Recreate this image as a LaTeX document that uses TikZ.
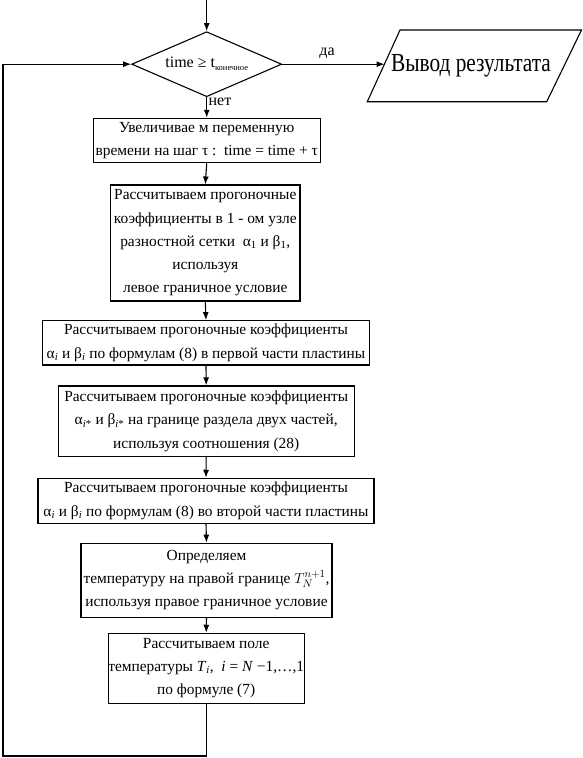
\documentclass[tikz,border=0pt]{standalone}
\usepackage{fontspec}
\setmainfont{LiberationSerif}[Extension=.ttf, UprightFont=*-Regular, ItalicFont=*-Italic, BoldFont=*-Bold, BoldItalicFont=*-BoldItalic]
\usetikzlibrary{arrows.meta,shapes.geometric}
\newcommand{\sbi}[1]{\textsubscript{\textit{#1}}}
\begin{document}
\begin{tikzpicture}[x=1pt,y=-1pt,
  box/.style={draw, line width=1.1pt, inner sep=0pt, align=center, font=\fontsize{15.4}{23.3}\selectfont},
  dec/.style={draw, diamond, line width=1.1pt, inner sep=0pt, aspect=2.3, minimum width=150pt, minimum height=65pt, font=\fontsize{16}{18}\selectfont},
  arr/.style={line width=1.1pt, -{Latex[length=8pt,width=6pt]}},
  ln/.style={line width=1.1pt},
  lbl/.style={font=\fontsize{16}{18}\selectfont, inner sep=0pt}]
\useasboundingbox (0,0) rectangle (582,758);

\coordinate (start) at (206.7,0);
\node[dec] (d) at (206.7,64.2) {time ≥ t\raisebox{-3pt}{\fontsize{8.5}{9}\selectfont конечное}};

% output parallelogram
\coordinate (pA) at (400,30);
\coordinate (pB) at (581.5,30);
\coordinate (pC) at (546.7,101.7);
\coordinate (pD) at (367.3,101.7);
\draw[ln] (pA) -- (pB) -- (pC) -- (pD) -- cycle;
\node[font=\fontsize{26}{30}\selectfont\addfontfeature{FakeStretch=0.82}, inner sep=0pt] (out) at (471,66) {Вывод результата};
\coordinate (outin) at (384.5,64.2);

\node[box, minimum width=226.7pt, minimum height=44.4pt] (b1) at (206.7,140.5)
  {Увеличивае м переменную\\времени на шаг τ :\ \ time = time + τ};
\node[box, minimum width=189.3pt, minimum height=116pt] (b2) at (205.3,243)
  {Рассчитываем прогоночные\\коэффициенты в 1 - ом узле\\разностной сетки\ \ α\textsubscript{1} и β\textsubscript{1},\\используя\\левое граничное условие};
\node[box, minimum width=326.6pt, minimum height=44.3pt] (b3) at (206,342.8)
  {Рассчитываем прогоночные коэффициенты\\α\sbi{i} и β\sbi{i} по формулам (8) в первой части пластины};
\node[box, minimum width=295.7pt, minimum height=70.7pt] (b4) at (206.2,421.3)
  {Рассчитываем прогоночные коэффициенты\\α\textsubscript{\textit{i}*} и β\textsubscript{\textit{i}*} на границе раздела двух частей,\\используя соотношения (28)};
\node[box, minimum width=336pt, minimum height=45pt] (b5) at (206,500.8)
  {Рассчитываем прогоночные коэффициенты\\α\sbi{i} и β\sbi{i} по формулам (8) во второй части пластины};
\node[box, minimum width=251pt, minimum height=74pt] (b6) at (206.5,580.2)
  {Определяем\\температуру на правой границе $T_N^{n+1}$,\\используя правое граничное условие};
\node[box, minimum width=195pt, minimum height=70pt] (b7) at (206.2,668.3)
  {Рассчитываем поле\\температуры \textit{T}\sbi{i},\ \ \textit{i} = \textit{N} −1,…,1\\по формуле (7)};

\draw[arr] (start) -- (d.north);
\draw[arr] (d.east) -- (outin);
\draw[arr] (d.south) -- (b1.north);
\draw[arr] (b1.south) -- (b2.north);
\draw[arr] (b2.south) -- (b3.north);
\draw[arr] (b3.south) -- (b4.north);
\draw[arr] (b4.south) -- (b5.north);
\draw[arr] (b5.south) -- (b6.north);
\draw[arr] (b6.south) -- (b7.north);

\coordinate (l1) at (206.2,756);
\coordinate (l2) at (3,756);
\coordinate (l3) at (3,64.2);
\draw[arr] (b7.south) -- (l1) -- (l2) -- (l3) -- (d.west);

\node[lbl] (yes) at (327,53) {да};
\node[lbl] (no) at (220,102) {нет};
\end{tikzpicture}
\end{document}
